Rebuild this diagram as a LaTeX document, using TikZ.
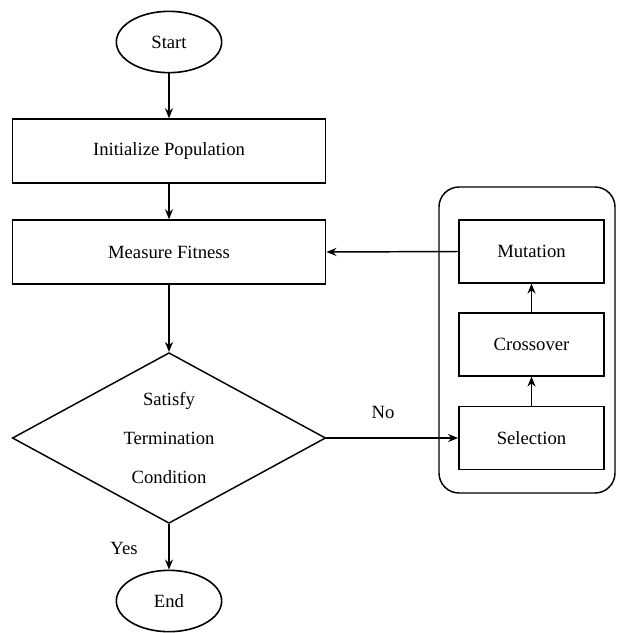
\documentclass[tikz,border=0pt]{standalone}
\usepackage{fontspec}
\setmainfont{Liberation Serif}
\usetikzlibrary{shapes.geometric,arrows.meta}

\begin{document}
\begin{tikzpicture}[
        x=0.75pt, y=-0.75pt,
        terminal/.style={ellipse, draw, line width=1.2pt, minimum width=79pt, minimum height=46pt, inner sep=0pt, font=\fontsize{14}{17}\selectfont},
        process/.style={rectangle, draw, line width=1.1pt, minimum width=235pt, minimum height=48pt, inner sep=0pt, font=\fontsize{14}{17}\selectfont},
        operator/.style={rectangle, draw, line width=1.1pt, minimum width=109pt, minimum height=47pt, inner sep=0pt, font=\fontsize{14}{17}\selectfont},
        decision/.style={diamond, aspect=2, draw, line width=1.1pt, minimum width=235pt, minimum height=128pt, inner sep=0pt, align=center, font=\fontsize{14}{29}\selectfont},
        group/.style={rectangle, draw, line width=1.1pt, rounded corners=15pt, minimum width=132pt, minimum height=229.5pt},
        label/.style={font=\fontsize{14}{17}\selectfont},
        arrow/.style={-{Stealth[length=7.5pt,width=6pt]}, line width=1.1pt}
    ]
        \useasboundingbox (0,0) rectangle (617,633);

        % ========== MAIN FLOW (Left) ==========
        \node[terminal] (start) at (169,42) {Start};
        \node[process] (initPop) at (169,151) {Initialize Population};
        \node[process] (measureFit) at (169,252) {Measure Fitness};
        \node[decision] (termCond) at (169,438) {Satisfy\\Termination\\Condition};
        \node[terminal] (finish) at (169,601) {End};

        % ========== GENETIC OPERATORS (Right) ==========
        \node[group] (operators) at (527,340) {};
        \node[operator] (mutation) at (531.5,251.5) {Mutation};
        \node[operator] (crossover) at (531.5,344.5) {Crossover};
        \node[operator] (selection) at (531.5,438) {Selection};

        % ========== CONNECTORS ==========
        \draw[arrow] (start.south) -- (initPop.north);
        \draw[arrow] (initPop.south) -- (measureFit.north);
        \draw[arrow] (measureFit.south) -- (termCond.north);
        \draw[arrow] (termCond.south) -- (finish.north);
        \draw[arrow] (termCond.east) -- (selection.west);
        \draw[arrow] (selection.north) -- (crossover.south);
        \draw[arrow] (crossover.north) -- (mutation.south);
        \draw[arrow] (mutation.west) -- (measureFit.east);

        % ========== LABELS ==========
        \node[label] (yesLabel) at (124,548) {Yes};
        \node[label] (noLabel) at (383,412) {No};

    \end{tikzpicture}
\end{document}
